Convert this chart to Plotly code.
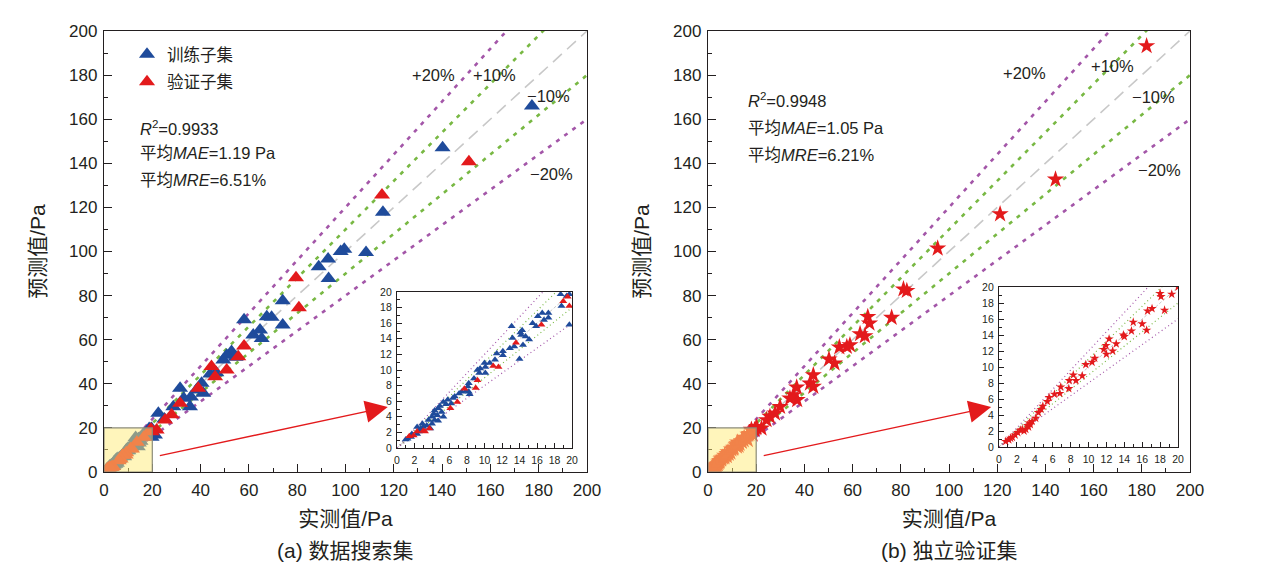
import plotly.graph_objects as go

# ---- (a) data search set: training subset ----
a_train_x = [177.2, 140.2, 115.5, 99.5, 98.0, 108.5, 92.8, 88.9, 93.0, 74.0, 74.0, 67.4, 69.4, 58.0,
             61.8, 64.6, 65.3, 52.8, 49.4, 50.8, 40.4, 38.3, 41.1, 31.5, 35.6, 28.7, 22.5, 21.1,
             44.0, 46.5, 36.0, 33.0, 25.0, 54.5,
             19.7, 18.7, 19.4, 18.8, 19.7, 17.3, 16.6, 16.1, 16.8, 17.3, 15.9, 15.5, 14.3, 14.2,
             14.7, 15.1, 14.1, 13.1, 13.2, 12.9, 13.4, 14.4, 14.0, 12.1, 12.1, 11.4, 11.2, 10.6,
             10.1, 10.0, 9.5, 9.2, 9.4, 10.1, 8.8, 8.2, 8.1, 8.2, 8.3, 7.9, 7.1, 7.4, 6.6, 6.4,
             6.2, 5.8, 5.6, 5.3, 4.9, 4.7, 4.3, 5.1, 5.3, 4.6, 4.2, 4.0, 4.3, 4.7, 4.0, 3.6, 3.4,
             3.8, 3.0, 2.9, 2.5, 2.3, 1.6, 1.7, 1.2, 1.0, 2.7, 2.3, 2.9]
a_train_y = [166.0, 147.1, 117.8, 101.0, 100.0, 99.6, 96.6, 93.1, 87.8, 77.7, 66.7, 70.4, 70.2, 69.0,
             62.1, 64.4, 60.6, 54.6, 50.8, 53.0, 40.2, 37.2, 35.7, 38.0, 29.6, 29.6, 26.6, 16.8,
             44.5, 45.0, 34.0, 33.5, 24.0, 52.0,
             19.7, 19.7, 19.5, 18.2, 15.8, 17.3, 17.3, 16.9, 16.4, 16.7, 15.6, 16.0, 15.1, 14.5,
             14.3, 13.9, 14.8, 15.6, 14.1, 12.8, 13.0, 13.2, 11.4, 12.4, 11.9, 12.1, 11.3, 10.9,
             10.4, 10.9, 10.2, 10.0, 9.6, 9.6, 8.9, 8.3, 7.9, 7.2, 6.9, 7.3, 7.0, 7.2, 6.6, 6.4,
             5.7, 6.2, 5.6, 5.9, 5.4, 5.1, 4.8, 4.6, 4.0, 4.2, 4.4, 4.0, 3.6, 3.5, 3.1, 3.6, 2.9,
             2.5, 2.7, 2.3, 2.1, 1.8, 1.4, 1.8, 1.2, 1.1, 2.5, 2.7, 3.1]

# ---- (a) data search set: validation subset ----
a_val_x = [151.1, 115.1, 79.5, 80.7, 58.0, 55.6, 44.5, 46.0, 50.8, 31.5, 25.3, 21.8, 39.0, 28.0,
           19.5, 19.0, 19.7, 16.5, 13.6, 11.6, 11.0, 9.2, 9.0, 7.7, 6.9, 6.1, 3.7, 3.2, 3.0, 1.9,
           1.4, 2.3]
a_val_y = [140.7, 125.6, 88.1, 74.5, 57.1, 52.3, 47.8, 43.2, 46.3, 31.2, 23.6, 19.0, 38.0, 26.0,
           19.4, 18.8, 18.2, 15.8, 13.5, 10.4, 10.5, 8.7, 7.7, 7.6, 5.9, 5.1, 2.5, 2.1, 2.2, 1.6,
           1.5, 2.1]

# ---- (b) independent validation set ----
b_x = [182.0, 144.2, 121.2, 95.3, 81.1, 82.5, 76.2, 66.3, 67.0, 63.1, 65.1, 54.5, 57.6, 58.9,
       50.2, 52.5, 43.7, 42.3, 43.7, 36.8, 35.4, 37.0, 34.0, 29.9, 27.8, 25.7, 24.3, 20.2, 22.2,
       20.0, 18.0, 18.1, 19.3, 18.5, 17.1, 16.6, 16.0, 15.0, 16.5, 14.8, 13.9, 14.0, 13.1, 12.3,
       11.96, 11.7, 12.7, 12.0, 10.7, 10.4, 9.7, 9.3, 8.6, 7.85, 8.3, 7.8, 6.9, 6.8, 6.2, 5.6,
       5.4, 4.9, 4.7, 4.4, 4.1, 3.4, 3.5, 3.3, 3.0, 2.8, 2.4, 2.1, 1.8, 1.5, 1.3, 1.1, 3.2, 3.7,
       2.6, 0.75]
b_y = [193.2, 132.7, 117.0, 101.4, 82.9, 82.2, 70.0, 70.4, 67.4, 62.6, 61.7, 56.6, 56.8, 57.6,
       51.1, 49.3, 44.0, 40.2, 38.7, 38.4, 34.9, 32.7, 33.4, 29.6, 26.6, 25.1, 23.6, 20.5, 19.8,
       20.0, 19.2, 18.8, 19.1, 17.1, 17.3, 17.0, 15.4, 15.6, 14.6, 14.5, 14.0, 13.8, 12.9, 13.5,
       12.7, 12.2, 12.0, 11.6, 11.1, 10.6, 10.3, 8.9, 8.3, 8.3, 9.0, 7.3, 7.5, 6.7, 6.6, 6.2,
       5.7, 5.1, 4.7, 4.3, 3.6, 3.0, 2.8, 2.5, 2.2, 2.0, 2.1, 1.8, 1.5, 1.2, 1.1, 0.9, 2.7, 3.2,
       2.2, 0.7]

# reference lines: 1:1, +-10 %, +-20 %
band_factors = [1.0, 1.1, 0.9, 1.2, 0.8]
band_colors = ["#c8c8c8", "#78b843", "#78b843", "#a356a8", "#a356a8"]
line_x = [0, 200]

stats_a = ["<i>R</i><sup>2</sup>=0.9933", "平均<i>MAE</i>=1.19 Pa", "平均<i>MRE</i>=6.51%"]
stats_b = ["<i>R</i><sup>2</sup>=0.9948", "平均<i>MAE</i>=1.05 Pa", "平均<i>MRE</i>=6.21%"]
captions = ["(a) 数据搜索集", "(b) 独立验证集"]

BLUE = "#1f4b9b"
RED = "#e31a1c"
INK = "#231f20"
FONT = "Liberation Sans, Arial, Noto Sans CJK SC"

# the page has an 8px body margin, so the figure is a bit smaller than the window
OFF = 8
W, H = 1269 - 2 * OFF, 575 - 2 * OFF


def px_x(p):
    return (p - OFF) / W


def px_y(p):
    return 1 - (p - OFF) / H


def in_box(xs, ys):
    pairs = [(x, y) for x, y in zip(xs, ys) if x <= 20 and y <= 20]
    return [p[0] for p in pairs], [p[1] for p in pairs]


fig = go.Figure()

# axes: main a = x/y, main b = x2/y2, inset a = x3/y3, inset b = x4/y4
panels = [("x", "y", False), ("x2", "y2", False), ("x3", "y3", True), ("x4", "y4", True)]
for xa, ya, inset in panels:
    for f, c in zip(band_factors, band_colors):
        if f == 1.0:
            dash = "3px,2px" if inset else "12px,7px"
            w = 1 if inset else 1.6
        else:
            dash = "1px,3px" if inset else "4px,6px"
            w = 1.2 if inset else 2.6
        fig.add_trace(go.Scatter(x=line_x, y=[f * v for v in line_x], mode="lines",
                                 line=dict(color=c, width=w, dash=dash),
                                 xaxis=xa, yaxis=ya, showlegend=False, hoverinfo="skip"))

# panel (a) scatter
fig.add_trace(go.Scatter(x=a_train_x, y=a_train_y, mode="markers", name="训练子集",
                         marker=dict(symbol="triangle-up", size=14, color=BLUE),
                         legendgroup="t", xaxis="x", yaxis="y"))
fig.add_trace(go.Scatter(x=a_val_x, y=a_val_y, mode="markers", name="验证子集",
                         marker=dict(symbol="triangle-up", size=14, color=RED),
                         legendgroup="v", xaxis="x", yaxis="y"))
ix, iy = in_box(a_train_x, a_train_y)
fig.add_trace(go.Scatter(x=ix, y=iy, mode="markers", showlegend=False,
                         marker=dict(symbol="triangle-up", size=7, color=BLUE),
                         xaxis="x3", yaxis="y3"))
ix, iy = in_box(a_val_x, a_val_y)
fig.add_trace(go.Scatter(x=ix, y=iy, mode="markers", showlegend=False,
                         marker=dict(symbol="triangle-up", size=7, color=RED),
                         xaxis="x3", yaxis="y3"))

# panel (b) scatter
fig.add_trace(go.Scatter(x=b_x, y=b_y, mode="markers", showlegend=False,
                         marker=dict(symbol="star", size=13, color=RED),
                         xaxis="x2", yaxis="y2"))
ix, iy = in_box(b_x, b_y)
fig.add_trace(go.Scatter(x=ix, y=iy, mode="markers", showlegend=False,
                         marker=dict(symbol="star", size=7, color=RED),
                         xaxis="x4", yaxis="y4"))

# domains (pixels)
main_a = dict(x=(104, 587), y=(31, 472))
main_b = dict(x=(708, 1190), y=(31, 472))
ins_a = dict(x=(397, 572), y=(292, 448))
ins_b = dict(x=(999, 1178), y=(287, 447))


def xdom(d):
    return [px_x(d["x"][0]), px_x(d["x"][1])]


def ydom(d):
    return [px_y(d["y"][1]), px_y(d["y"][0])]


main_axis = dict(range=[0, 200], dtick=20, showline=True, mirror=True, linecolor=INK, linewidth=1.3,
                 ticks="inside", ticklen=8, tickcolor=INK, showgrid=False, zeroline=False,
                 tickfont=dict(size=17, color=INK), ticklabelstandoff=2, automargin=False,
                 minor=dict(ticks="inside", ticklen=4, dtick=10, tickcolor=INK, showgrid=False))
inset_axis = dict(range=[0, 20], dtick=2, showline=True, mirror=True, linecolor=INK, linewidth=1.2,
                  ticks="inside", ticklen=5, tickcolor=INK, showgrid=False, zeroline=False,
                  tickfont=dict(size=10.5, color=INK), ticklabelstandoff=2, automargin=False,
                  minor=dict(ticks="inside", ticklen=3, dtick=1, tickcolor=INK, showgrid=False))

title_font = dict(size=21, color=INK)
fig.update_layout(
    width=W, height=H, autosize=False,
    margin=dict(l=0, r=0, t=0, b=0, autoexpand=False),
    paper_bgcolor="white", plot_bgcolor="white",
    font=dict(family=FONT, color=INK),
    xaxis=dict(main_axis, domain=xdom(main_a), anchor="y",
               title=dict(text="实测值/Pa", font=title_font, standoff=12)),
    yaxis=dict(main_axis, domain=ydom(main_a), anchor="x",
               title=dict(text="预测值/Pa", font=title_font, standoff=17)),
    xaxis2=dict(main_axis, domain=xdom(main_b), anchor="y2",
                title=dict(text="实测值/Pa", font=title_font, standoff=12)),
    yaxis2=dict(main_axis, domain=ydom(main_b), anchor="x2",
                title=dict(text="预测值/Pa", font=title_font, standoff=17)),
    xaxis3=dict(inset_axis, domain=xdom(ins_a), anchor="y3"),
    yaxis3=dict(inset_axis, domain=ydom(ins_a), anchor="x3"),
    xaxis4=dict(inset_axis, domain=xdom(ins_b), anchor="y4"),
    yaxis4=dict(inset_axis, domain=ydom(ins_b), anchor="x4"),
    legend=dict(x=px_x(127), y=px_y(37), xanchor="left", yanchor="top",
                bgcolor="rgba(0,0,0,0)", font=dict(size=16.5, color=INK),
                tracegroupgap=3, itemsizing="trace"),
)

# highlighted 0-20 box on both main panels
for xr, yr in [("x", "y"), ("x2", "y2")]:
    fig.add_shape(type="rect", xref=xr, yref=yr, x0=0, y0=0, x1=20, y1=20,
                  fillcolor="rgba(255,236,120,0.5)", line=dict(color="#8c8c7a", width=1.2),
                  layer="above")

# arrows from box to inset
for xr, yr in [("x", "y"), ("x2", "y2")]:
    fig.add_annotation(xref=xr, yref=yr, axref=xr, ayref=yr, x=117.5, y=29.5, ax=22.5, ay=7.3,
                       showarrow=True, arrowhead=2, arrowsize=3.2, arrowwidth=1.4,
                       arrowcolor=RED, text="")

# band labels
label_pos_a = {"+20%": (433, 75), "+10%": (494, 75), "\u221210%": (548, 96), "\u221220%": (551, 174)}
label_pos_b = {"+20%": (1024, 73), "+10%": (1112, 66), "\u221210%": (1153, 97), "\u221220%": (1159, 170)}
for pos in (label_pos_a, label_pos_b):
    for t, (x, y) in pos.items():
        fig.add_annotation(xref="paper", yref="paper", x=px_x(x), y=px_y(y), text=t,
                           xanchor="center", yanchor="middle",
                           showarrow=False, font=dict(size=16.5, color=INK))

# statistics
for lines, x0, ys in [(stats_a, 138, (128, 153, 180)), (stats_b, 746, (100, 128, 155))]:
    for t, y in zip(lines, ys):
        fig.add_annotation(xref="paper", yref="paper", x=px_x(x0), y=px_y(y), text=t,
                           xanchor="left", yanchor="middle", showarrow=False,
                           font=dict(size=16.5, color=INK))

# panel captions
for t, x in zip(captions, (345, 949)):
    fig.add_annotation(xref="paper", yref="paper", x=px_x(x), y=px_y(550), text=t,
                       xanchor="center", yanchor="middle",
                       showarrow=False, font=dict(size=21, color=INK))

fig.write_html("out.html")
